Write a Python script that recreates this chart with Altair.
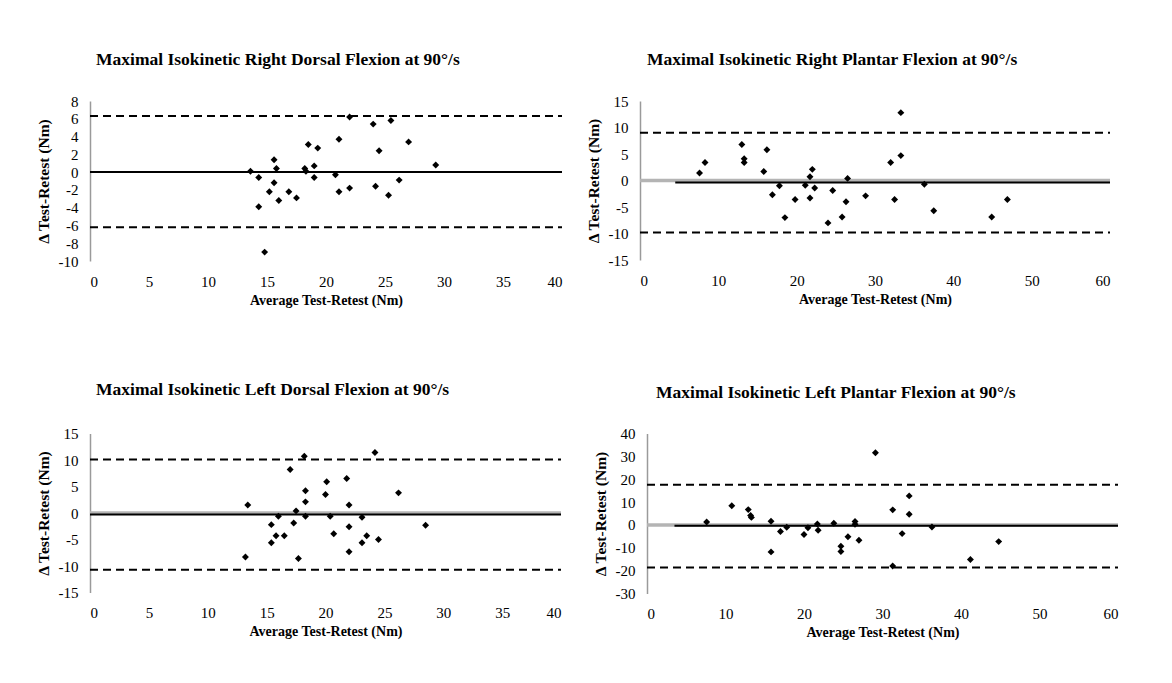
import altair as alt
import pandas as pd

SERIF = "Liberation Serif"

# ---------- Panel 1: Right Dorsal Flexion ----------
rdf_title = "Maximal Isokinetic Right Dorsal Flexion at 90°/s"
rdf_avg = [13.6, 14.3, 14.3, 14.8, 15.2, 15.6, 15.8, 15.6, 16.0, 16.85, 17.5, 18.5, 18.2, 18.3, 19.0,
           19.0, 19.3, 20.8, 21.1, 21.1, 22.0, 22.0, 24.0, 24.2, 24.5, 25.5, 25.3, 26.2, 27.0, 29.3]
rdf_diff = [0.1, -0.6, -3.9, -9.0, -2.2, 1.4, 0.4, -1.2, -3.2, -2.2, -2.9, 3.1, 0.4, 0.1, 0.7,
            -0.6, 2.7, -0.3, 3.7, -2.2, 6.2, -1.8, 5.4, -1.6, 2.4, 5.8, -2.6, -0.9, 3.4, 0.8]
rdf_mean, rdf_upper, rdf_lower = 0.0, 6.3, -6.2

# ---------- Panel 2: Right Plantar Flexion ----------
rpf_title = "Maximal Isokinetic Right Plantar Flexion at 90°/s"
rpf_avg = [7.6, 8.3, 13.0, 13.3, 13.3, 15.8, 16.2, 16.9, 17.8, 18.5, 19.8, 21.1, 21.7, 21.7, 22.0,
           22.3, 24.0, 24.6, 25.8, 26.3, 26.5, 28.8, 32.0, 32.5, 33.3, 33.3, 36.3, 37.5, 44.9, 46.9]
rpf_diff = [1.4, 3.4, 6.8, 4.1, 3.4, 1.7, 5.8, -2.7, -1.0, -7.0, -3.6, -0.9, -3.3, 0.7, 2.1,
            -1.4, -8.0, -1.9, -6.9, -4.0, 0.4, -2.9, 3.4, -3.6, 12.8, 4.7, -0.7, -5.7, -6.9, -3.6]
rpf_mean, rpf_upper, rpf_lower = -0.4, 9.0, -9.8

# ---------- Panel 3: Left Dorsal Flexion ----------
ldf_title = "Maximal Isokinetic Left Dorsal Flexion at 90°/s"
ldf_avg = [13.4, 13.2, 15.4, 15.4, 15.8, 16.0, 16.5, 17.0, 17.3, 17.5, 17.7, 18.2, 18.3, 18.3, 18.3,
           20.0, 20.1, 20.4, 20.7, 21.8, 22.0, 22.0, 22.0, 23.1, 23.1, 23.5, 24.2, 24.5, 26.2, 28.5]
ldf_diff = [1.5, -8.3, -2.2, -5.6, -4.3, -0.6, -4.3, 8.2, -1.9, 0.4, -8.6, 10.7, 4.2, 2.1, -0.6,
            3.5, 5.9, -0.6, -3.9, 6.5, 1.5, -2.6, -7.3, -0.8, -5.6, -4.3, 11.4, -5.0, 3.8, -2.3]
ldf_mean, ldf_upper, ldf_lower = -0.3, 10.1, -10.7

# ---------- Panel 4: Left Plantar Flexion ----------
lpf_title = "Maximal Isokinetic Left Plantar Flexion at 90°/s"
lpf_avg = [7.6, 10.8, 12.9, 13.2, 13.3, 15.8, 15.8, 17.0, 17.8, 20.0, 20.5, 21.7, 21.8, 23.8, 24.7,
           24.7, 25.6, 26.5, 26.5, 27.0, 29.1, 31.3, 31.3, 32.5, 33.4, 33.4, 36.3, 41.2, 44.8]
lpf_diff = [1.3, 8.4, 6.7, 4.1, 3.3, 1.6, -11.8, -2.9, -1.0, -4.2, -1.2, 0.4, -2.3, 0.7, -9.3,
            -11.6, -5.2, 1.5, 0.3, -6.7, 31.6, 6.6, -18.0, -3.8, 12.7, 4.7, -0.9, -15.1, -7.3]
lpf_mean, lpf_upper, lpf_lower = -0.4, 17.6, -18.6

y_title = "Δ Test-Retest (Nm)"
x_title = "Average Test-Retest (Nm)"


def panel(title, avg, diff, mean, upper, lower, xmax, xstep, ymin, ymax, ystep,
          mean_start, gray, w, h, tdx, toff):
    xs = alt.Scale(domain=[0, xmax], nice=False, zero=True)
    ys = alt.Scale(domain=[ymin, ymax], nice=False)
    x_axis = alt.Axis(values=list(range(0, xmax + 1, xstep)), title=x_title,
                      labelOverlap=False)
    y_axis = alt.Axis(values=list(range(ymin, ymax + 1, ystep)), title=y_title,
                      labelExpr="'' + datum.value", labelOverlap=False)
    pts = pd.DataFrame({"avg": avg, "diff": diff})
    base_pts = alt.Chart(pts).mark_point(shape="diamond", filled=True, size=48,
                                         color="black", opacity=1).encode(
        x=alt.X("avg:Q", scale=xs, axis=x_axis),
        y=alt.Y("diff:Q", scale=ys, axis=y_axis),
    )
    dashed = pd.DataFrame({"y": [upper, lower], "x": [0, 0], "x2": [xmax, xmax]})
    dash_layer = alt.Chart(dashed).mark_rule(color="black", strokeWidth=2,
                                             strokeDash=[8, 5]).encode(
        x=alt.X("x:Q", scale=xs, axis=x_axis), x2="x2:Q",
        y=alt.Y("y:Q", scale=ys, axis=y_axis))
    layers = [dash_layer]
    if gray:
        zero = pd.DataFrame({"y": [0], "x": [0], "x2": [xmax]})
        layers.append(alt.Chart(zero).mark_rule(color="#b4b4b4", strokeWidth=3.5).encode(
            x=alt.X("x:Q", scale=xs, axis=x_axis), x2="x2:Q",
            y=alt.Y("y:Q", scale=ys, axis=y_axis)))
    solid = pd.DataFrame({"y": [mean], "x": [mean_start], "x2": [xmax]})
    layers.append(alt.Chart(solid).mark_rule(color="black", strokeWidth=2).encode(
        x=alt.X("x:Q", scale=xs, axis=x_axis), x2="x2:Q",
        y=alt.Y("y:Q", scale=ys, axis=y_axis)))
    layers.append(base_pts)
    return alt.layer(*layers).properties(
        width=w, height=h,
        title=alt.Title(title, anchor="start", frame="group", dx=tdx, offset=toff,
                        font=SERIF, fontSize=17.5, fontWeight="bold", color="black"),
    )


p1 = panel(rdf_title, rdf_avg, rdf_diff, rdf_mean, rdf_upper, rdf_lower, 40, 5, -10, 8, 2, 0, False, 472, 160, 6, 26)
p2 = panel(rpf_title, rpf_avg, rpf_diff, rpf_mean, rpf_upper, rpf_lower, 60, 10, -15, 15, 5, 4.5, True, 470, 159, 7, 26)
p3 = panel(ldf_title, ldf_avg, ldf_diff, ldf_mean, ldf_upper, ldf_lower, 40, 5, -15, 15, 5, 0, True, 471, 159, 6, 28)
p4 = panel(lpf_title, lpf_avg, lpf_diff, lpf_mean, lpf_upper, lpf_lower, 60, 10, -30, 40, 10, 3.5, True, 471, 160, 9, 25)

row1 = alt.hconcat(p1, p2, spacing=23)
row2 = alt.hconcat(p3, p4, spacing=30)

chart = alt.vconcat(row1, row2, spacing=73.5).properties(
    padding={"left": 28, "top": 42, "right": 5, "bottom": 5},
    background="white",
).configure_view(strokeWidth=0).configure_axis(
    grid=False, ticks=False, labelFont=SERIF, titleFont=SERIF,
    labelColor="black", titleColor="black", labelFontSize=15, labelOverlap=False,
).configure_axisY(
    domainColor="#9a9a9a", domainWidth=1.5, labelPadding=12,
    titleFontSize=15.5, titleFontWeight="bold", titlePadding=7,
).configure_axisX(
    domain=False, labelPadding=13, titleFontSize=14, titleFontWeight="bold",
    titlePadding=4,
)

chart.save("out.html", embed_options={"renderer": "svg", "actions": False})
